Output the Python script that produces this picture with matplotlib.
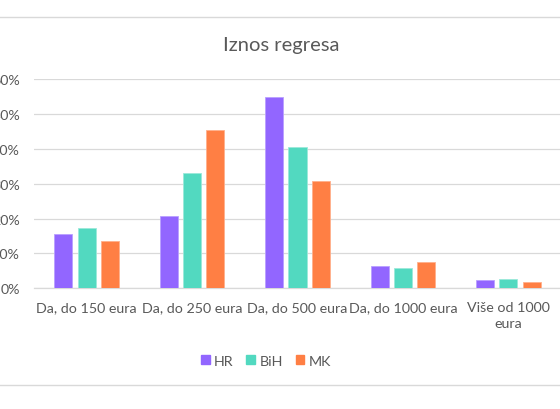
import numpy as np
import matplotlib
matplotlib.use("Agg")
import matplotlib.pyplot as plt
from matplotlib.lines import Line2D
from matplotlib.patches import Patch

plt.rcParams['font.family'] = ['Lato', 'DejaVu Sans']

categories = ["Da, do 150 eura", "Da, do 250 eura", "Da, do 500 eura",
              "Da, do 1000 eura", "Više od 1000\neura"]
hr = [15.6, 20.6, 54.7, 6.3, 2.3]
bih = [17.2, 33.0, 40.6, 5.7, 2.6]
mk = [13.5, 45.4, 30.8, 7.5, 1.7]

series = [("HR", hr, "#9266FF", "#B9A0FF"),
          ("BiH", bih, "#52D9C0", "#9BE9DA"),
          ("MK", mk, "#FF7F44", "#FFB08C")]

text_col = "#595959"
grid_col = "#D9D9D9"

fig = plt.figure(figsize=(5.6, 4.1), dpi=100)
ax = fig.add_axes([34 / 560, (410 - 289.3) / 410, (561 - 34) / 560, (289.3 - 80) / 410])

x = np.arange(len(categories))
width = 0.171
step = 0.221
for i, (name, vals, col, edge) in enumerate(series):
    ax.bar(x + (i - 1) * step, vals, width, color=col, edgecolor=edge,
           linewidth=0.6, label=name, zorder=3)

ax.set_xlim(-0.5, len(categories) - 0.5)
ax.set_ylim(0, 60)
ax.set_yticks(np.arange(0, 61, 10))
ax.set_yticklabels([f"{v}%" for v in range(0, 61, 10)])
ax.set_xticks(x)
ax.set_xticklabels(categories, linespacing=1.45)
ax.tick_params(axis="both", length=0, labelsize=10.3, colors=text_col)
ax.tick_params(axis="x", pad=9)
ax.tick_params(axis="y", pad=10)

ax.grid(axis="y", color=grid_col, linewidth=0.9, zorder=0)
for s in ["top", "right", "left"]:
    ax.spines[s].set_visible(False)
ax.spines["bottom"].set_color(grid_col)
ax.spines["bottom"].set_linewidth(0.9)

fig.text(281 / 560, 1 - 46 / 410, "Iznos regresa", ha="center", va="center",
         fontsize=14.5, color=text_col)

handles = [Patch(facecolor=c, edgecolor=c, label=n) for n, _, c, _ in series]
fig.legend(handles=handles, loc="center", bbox_to_anchor=(266 / 560, 1 - 362 / 410),
           ncol=3, frameon=False, fontsize=10.3, handlelength=0.6, handleheight=0.6,
           handletextpad=0.3, columnspacing=0.9, labelcolor=text_col)

# chart border lines
fig.add_artist(Line2D([0, 1], [1 - 18 / 410] * 2, color=grid_col, linewidth=1))
fig.add_artist(Line2D([0, 1], [1 - 386 / 410] * 2, color=grid_col, linewidth=1))

fig.savefig("out.png", dpi=100)
